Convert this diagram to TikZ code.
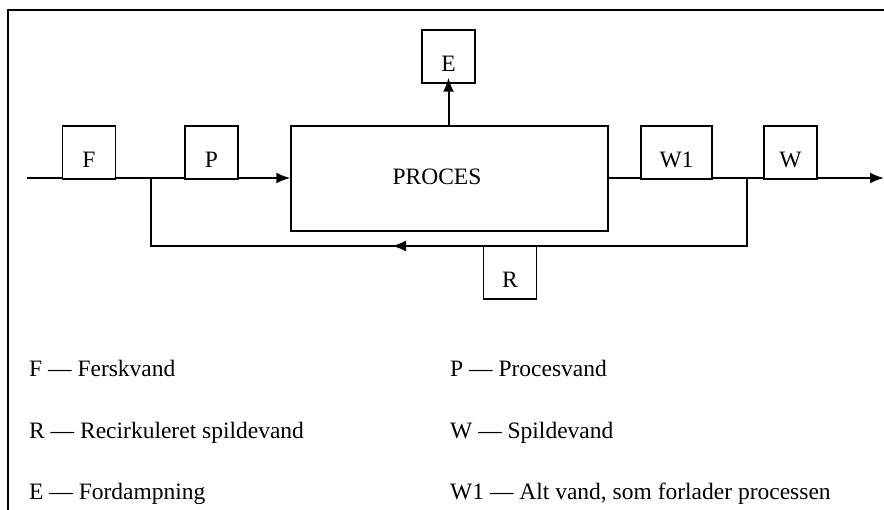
\documentclass[tikz,border=0pt]{standalone}
\usepackage{fontspec}
\setmainfont{Liberation Serif}
\usetikzlibrary{arrows.meta}
\begin{document}
\begin{tikzpicture}[x=1pt,y=-1pt,
  font=\fontsize{23.5}{28}\selectfont,
  box/.style={draw,line width=1.4pt,minimum width=53pt,minimum height=53pt,inner sep=0pt,text height=31pt,text depth=0pt},
  flow/.style={line width=2pt},
  thin/.style={line width=1.4pt},
  tip/.style={-{Latex[length=14pt,width=11pt]}},
  leg/.style={anchor=base west,inner sep=0pt}]
\useasboundingbox (0,0) rectangle (884,510);
\draw[line width=1.6pt] (8,510) -- (8,10) -- (884,10);
% boxes
\node[box] (F) at (89,152.5) {F};
\node[box] (P) at (211.5,152.5) {P};
\node[draw,line width=1.4pt,minimum width=317pt,minimum height=105pt,inner sep=0pt] (PR) at (449.5,178.5) {};
\node[inner sep=0pt] (PRt) at (437,177) {PROCES};
\node[box] (E) at (448.5,56.5) {E};
\node[box,minimum width=71pt] (W1) at (676.5,152.5) {W1};
\node[box] (W) at (790.5,152.5) {W};
\node[box] (R) at (510,272.5) {R};
% coordinates
\coordinate (in) at (27,178);
\coordinate (out) at (884,178);
\coordinate (jl) at (151,178);
\coordinate (jr) at (747,178);
\coordinate (bl) at (151,246);
\coordinate (br) at (747,246);
\coordinate (mid) at (392,246);
% main flow
\draw[flow] (in) -- (F.west |- in);
\draw[flow] (F.east |- in) -- (P.west |- in);
\draw[flow,tip] (P.east |- in) -- (PR.west |- in);
\draw[flow] (PR.east |- in) -- (W1.west |- in);
\draw[flow] (W1.east |- in) -- (W.west |- in);
\draw[flow,tip] (W.east |- in) -- (out);
\draw[flow,tip] (PR.north -| E) -- ([yshift=6pt]E.south);
% recycle loop
\draw[thin] (jr) -- (br) -- (bl) -- (jl);
\draw[flow,tip] (br) -- (mid);
\draw[flow] (mid) -- (bl);
% legend
\node[leg] (l1) at (29,377) {F — Ferskvand};
\node[leg] (l2) at (29,439) {R — Recirkuleret spildevand};
\node[leg] (l3) at (29,500) {E — Fordampning};
\node[leg] (l4) at (450,377) {P — Procesvand};
\node[leg] (l5) at (450,439) {W — Spildevand};
\node[leg] (l6) at (450,500) {W1 — Alt vand, som forlader processen};
\end{tikzpicture}
\end{document}
